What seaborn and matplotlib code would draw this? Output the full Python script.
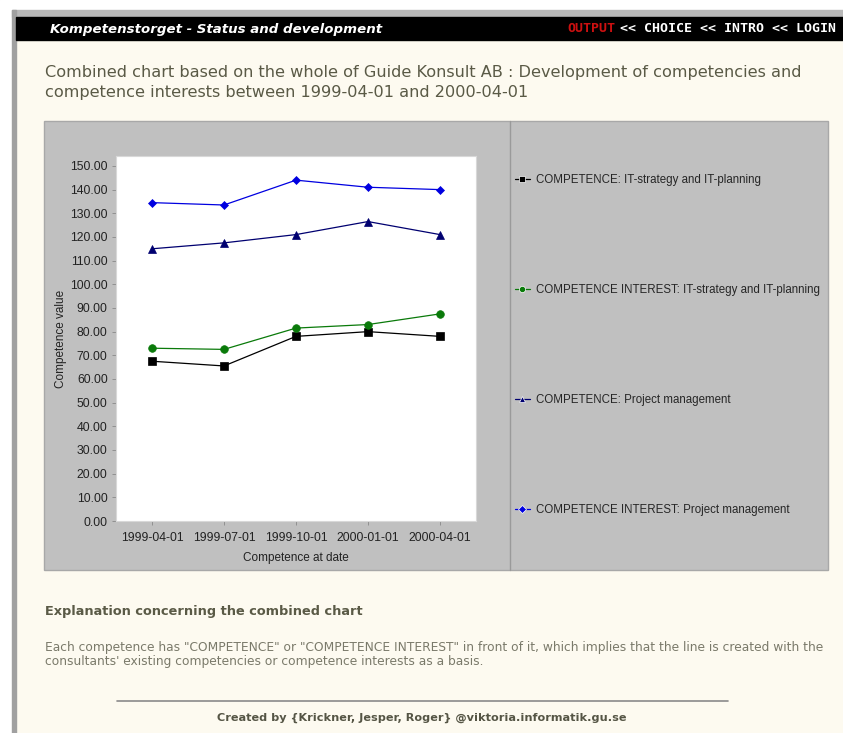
import matplotlib
matplotlib.use("Agg")
import matplotlib.pyplot as plt
import seaborn as sns
import pandas as pd
from matplotlib.patches import Rectangle
from matplotlib.lines import Line2D

dates = ["1999-04-01", "1999-07-01", "1999-10-01", "2000-01-01", "2000-04-01"]
series_names = [
    "COMPETENCE: IT-strategy and IT-planning",
    "COMPETENCE INTEREST: IT-strategy and IT-planning",
    "COMPETENCE: Project management",
    "COMPETENCE INTEREST: Project management",
]
comp_it = [67.5, 65.5, 78.0, 80.0, 78.0]
interest_it = [73.0, 72.5, 81.5, 83.0, 87.5]
comp_pm = [115.0, 117.5, 121.0, 126.5, 121.0]
interest_pm = [134.5, 133.5, 144.0, 141.0, 140.0]
y_ticks = [0, 10, 20, 30, 40, 50, 60, 70, 80, 90, 100, 110, 120, 130, 140, 150]

colors = ["#000000", "#0a7a0a", "#000070", "#0000e0"]
markers = ["s", "o", "^", "D"]
marker_sizes = [5.5, 5.5, 5.5, 4.5]

rows = []
for name, vals in zip(series_names, [comp_it, interest_it, comp_pm, interest_pm]):
    for d, v in zip(dates, vals):
        rows.append({"date": d, "value": v, "series": name})
df = pd.DataFrame(rows)

sns.set_style("white")
plt.rcParams["font.family"] = ["Liberation Sans", "DejaVu Sans"]

W, H = 843, 733
fig = plt.figure(figsize=(W / 100, H / 100), dpi=100)
fig.patch.set_facecolor("#fdfaf0")

def fx(x):
    return x / W

def fy(y):
    return 1 - y / H

# page frame
fig.patches.append(Rectangle((0, fy(10)), 1, 10 / H, transform=fig.transFigure, color="white", zorder=0))
fig.patches.append(Rectangle((0, 0), fx(12), 1, transform=fig.transFigure, color="white", zorder=0))
fig.patches.append(Rectangle((fx(12), fy(17)), 1, 7 / H, transform=fig.transFigure, color="#b8b8b8", zorder=0))
fig.patches.append(Rectangle((fx(12), 0), 4 / W, fy(10), transform=fig.transFigure, color="#a0a0a0", zorder=0))
fig.patches.append(Rectangle((fx(16), fy(40)), 1, 23 / H, transform=fig.transFigure, color="#000000", zorder=1))
fig.text(fx(50), fy(29), "Kompetenstorget - Status and development", color="white",
         fontsize=9.6, fontstyle="italic", fontweight="bold", va="center", ha="left",
         family=["DejaVu Sans"])
fig.text(fx(567), fy(29), "OUTPUT", color="#cc1010", fontsize=9.5, fontweight="bold",
         va="center", ha="left", family=["DejaVu Sans Mono"])
fig.text(fx(567 + 6 * 8.0 + 5), fy(29), "<< CHOICE << INTRO << LOGIN", color="white", fontsize=9.5,
         fontweight="bold", va="center", ha="left", family=["DejaVu Sans Mono"])

title_col = "#5a5a46"
fig.text(fx(45), fy(73), "Combined chart based on the whole of Guide Konsult AB : Development of competencies and",
         color=title_col, fontsize=11.6, va="center", ha="left", family=["DejaVu Sans"])
fig.text(fx(45), fy(92), "competence interests between 1999-04-01 and 2000-04-01",
         color=title_col, fontsize=11.6, va="center", ha="left", family=["DejaVu Sans"])

# chart panel
fig.patches.append(Rectangle((fx(44), fy(570)), 784 / W, 449 / H, transform=fig.transFigure,
                             facecolor="#c0c0c0", edgecolor="#a8a8a8", lw=1, zorder=1))
fig.lines.append(Line2D([fx(510), fx(510)], [fy(570), fy(121)], transform=fig.transFigure,
                        color="#9a9a9a", lw=1, zorder=2))

ax = fig.add_axes([fx(116), fy(521), 360 / W, 365 / H])
ax.set_zorder(5)
ax.set_facecolor("white")
sns.lineplot(data=df, x="date", y="value", hue="series", style="series",
             hue_order=series_names, style_order=series_names,
             palette=colors, markers=markers, dashes=False, ax=ax,
             linewidth=0.9, markeredgewidth=0.5, legend=True, zorder=5)
for ln, c, ms in zip(ax.lines, colors, marker_sizes):
    ln.set_markeredgecolor(c)
    ln.set_markersize(ms)
ax.set_xlim(-0.5, 4.5)
ax.set_ylim(0, 154.2)
ax.set_yticks(y_ticks)
ax.set_yticklabels([f"{v:.2f}" for v in y_ticks])
ax.tick_params(axis="both", labelsize=8.8, length=3, width=0.6, direction="out",
               left=True, bottom=True, colors="#888888")
ax.tick_params(axis="x", pad=5)
ax.tick_params(axis="y", pad=3)
for lbl in ax.get_xticklabels() + ax.get_yticklabels():
    lbl.set_color("#222222")
ax.set_xlabel("Competence at date", fontsize=8.5, color="#222222", labelpad=6)
ax.set_ylabel("Competence value", fontsize=8.5, color="#222222", labelpad=2)
for s in ax.spines.values():
    s.set_color("#d8d8d8")
    s.set_linewidth(0.8)

handles, labels = ax.get_legend_handles_labels()
ax.get_legend().remove()
leg = fig.legend(handles, labels, loc="upper left", bbox_to_anchor=(fx(515), fy(174)),
                 frameon=False, fontsize=8.3, handlelength=1.3, handletextpad=0.5,
                 labelspacing=8.5, borderaxespad=0, borderpad=0)
leg.set_zorder(6)
for h in leg.legend_handles:
    h.set_markersize(4.5)

# footer text
fig.text(fx(45), fy(612), "Explanation concerning the combined chart", color=title_col,
         fontsize=9.3, fontweight="bold", va="center", ha="left", family=["DejaVu Sans"])
fig.text(fx(45), fy(648),
         "Each competence has \"COMPETENCE\" or \"COMPETENCE INTEREST\" in front of it, which implies that the line is created with the",
         color="#7a7a6a", fontsize=8.8, va="center", ha="left", family=["DejaVu Sans"])
fig.text(fx(45), fy(662), "consultants' existing competencies or competence interests as a basis.",
         color="#7a7a6a", fontsize=8.8, va="center", ha="left", family=["DejaVu Sans"])
fig.lines.append(Line2D([fx(117), fx(728)], [fy(701), fy(701)], transform=fig.transFigure,
                        color="#8a8a8a", lw=1.2))
fig.text(fx(422), fy(718), "Created by {Krickner, Jesper, Roger} @viktoria.informatik.gu.se",
         color="#555545", fontsize=8.1, fontweight="bold", va="center", ha="center",
         family=["DejaVu Sans"])

fig.savefig("out.png", dpi=100, facecolor=fig.get_facecolor())
